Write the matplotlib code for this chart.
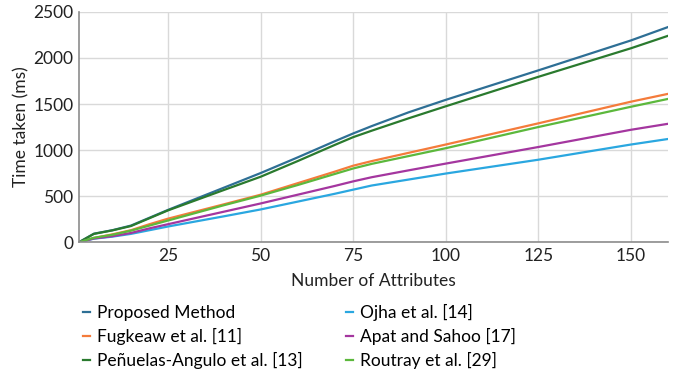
import matplotlib.pyplot as plt

plt.rcParams['font.family'] = ['Lato', 'DejaVu Sans']

attributes = [1, 5, 10, 15, 20, 25, 40, 50, 60, 70, 75, 80, 90, 100, 125, 150, 160]

proposed = [0, 92, 130, 180, 265, 350, 590, 750, 920, 1095, 1180, 1260, 1410, 1545, 1865, 2190, 2335]
fugkeaw = [0, 45, 85, 130, 195, 255, 410, 515, 640, 765, 830, 880, 970, 1060, 1290, 1525, 1610]
penuelas = [0, 90, 128, 175, 260, 345, 565, 710, 880, 1055, 1140, 1210, 1345, 1475, 1795, 2105, 2240]
ojha = [0, 38, 60, 90, 130, 170, 280, 355, 440, 525, 570, 615, 680, 745, 895, 1060, 1120]
apat = [0, 40, 65, 100, 150, 195, 330, 420, 515, 610, 660, 705, 780, 853, 1033, 1220, 1285]
routray = [0, 48, 80, 125, 180, 235, 400, 505, 620, 740, 800, 850, 935, 1020, 1250, 1470, 1555]

fig = plt.figure(figsize=(6.76, 3.72), dpi=100)
ax = fig.add_axes([0.117, 0.349, 0.871, 0.619])

lines = []
lines += ax.plot(attributes, proposed, color='#2e6f95', lw=1.6, label='Proposed Method')
lines += ax.plot(attributes, fugkeaw, color='#f47b3b', lw=1.6, label='Fugkeaw et al. [11]')
lines += ax.plot(attributes, penuelas, color='#2a7a2e', lw=1.6, label='Peñuelas-Angulo et al. [13]')
lines += ax.plot(attributes, ojha, color='#2aa7e0', lw=1.6, label='Ojha et al. [14]')
lines += ax.plot(attributes, apat, color='#a4369f', lw=1.6, label='Apat and Sahoo [17]')
lines += ax.plot(attributes, routray, color='#5cb83c', lw=1.6, label='Routray et al. [29]')

ax.set_xlim(1, 160)
ax.set_ylim(0, 2500)
ax.set_xticks([25, 50, 75, 100, 125, 150])
ax.set_yticks([0, 500, 1000, 1500, 2000, 2500])
ax.grid(color='#d9d9d9', lw=1)
ax.set_axisbelow(True)
for s in ['top', 'right']:
    ax.spines[s].set_visible(False)
for s in ['left', 'bottom']:
    ax.spines[s].set_color('#8c8c8c')
    ax.spines[s].set_linewidth(1.2)
ax.tick_params(length=0, labelsize=12.5, colors='#222222', pad=4)
ax.set_xlabel('Number of Attributes', fontsize=12.5, color='#222222', labelpad=7)
ax.set_ylabel('Time taken (ms)', fontsize=12.5, color='#222222', labelpad=3)

fig.legend(handles=lines, ncol=2, loc='upper left', bbox_to_anchor=(0.112, 0.202),
           frameon=False, fontsize=12.5, handlelength=0.4, handletextpad=0.4,
           labelspacing=0.42, columnspacing=2.5, borderaxespad=0, borderpad=0.4)

fig.savefig('out.png', dpi=100)
